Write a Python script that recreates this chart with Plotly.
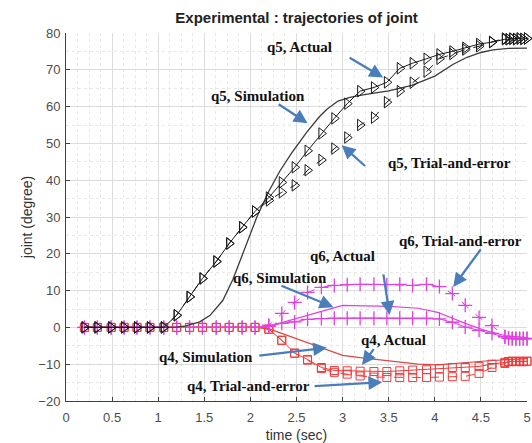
import plotly.graph_objects as go

# ---- data ----
T = [0.20, 0.34, 0.49, 0.63, 0.77, 0.91, 1.06, 1.20, 1.34, 1.48, 1.63, 1.77, 1.91, 2.05, 2.20,
     2.34, 2.48, 2.62, 2.77, 2.91, 3.05, 3.19, 3.34, 3.48, 3.62, 3.76, 3.91, 4.05, 4.19, 4.33,
     4.48, 4.62, 4.76, 4.80, 4.84, 4.88, 4.92, 4.96, 5.00]

q5_actual = [0, 0, 0, 0, 0, 0, 0, 3.3, 8.3, 13.3, 17.9, 22.8, 27.2, 31.5, 35.3,
             39.4, 43.5, 48.0, 52.7, 56.8, 60.8, 64.2, 65.2, 66.6, 70.4, 71.8, 73.0, 74.2, 75.0, 76.0,
             77.0, 77.5, 78.3, 78.3, 78.4, 78.3, 78.5, 78.4, 78.5]
q5_trial = [0, 0, 0, 0, 0, 0, 0, 3.3, 8.3, 13.3, 17.9, 22.8, 27.2, 31.5, 34.5,
            36.7, 38.6, 42.7, 45.5, 48.6, 51.6, 55.0, 57.0, 61.2, 64.2, 66.5, 69.5, 73.0, 74.3, 75.5,
            76.4, 77.6, 78.5, 78.3, 78.5, 78.4, 78.5, 78.4, 78.5]
q6_actual = [0, 0, 0, 0, 0, 0, 0, 0, 0, 0, 0, 0, 0, 0, 0.3,
             1.1, 1.5, 2.2, 2.4, 2.5, 2.5, 2.5, 2.5, 2.5, 2.5, 2.5, 2.5, 2.3, 1.4, 0.1,
             -0.8, -1.6, -2.6, -2.9, -3.0, -3.1, -3.0, -3.1, -3.0]
q6_trial = [0, 0, 0, 0, 0, 0, 0, 0, 0, 0, 0, 0, 0, 0, 0.6,
            3.8, 6.8, 9.5, 10.9, 11.4, 11.6, 11.7, 11.7, 11.6, 11.7, 11.4, 11.7, 11.1, 9.2, 6.0,
            2.7, 0.5, -2.5, -3.0, -3.1, -3.0, -3.1, -3.0, -3.1]
q4_actual = [0, 0, 0, 0, 0, 0, 0, 0, 0, 0, 0, 0, 0, 0, -0.5,
             -3.5, -7.0, -8.7, -10.9, -11.7, -11.8, -11.9, -12.0, -12.0, -11.8, -11.6, -11.5, -11.2, -10.9, -10.9,
             -10.6, -10.0, -9.5, -9.3, -9.2, -9.3, -9.2, -9.3, -9.2]
q4_trial = [0, 0, 0, 0, 0, 0, 0, 0, 0, 0, 0, 0, 0, 0, -0.5,
            -3.5, -7.0, -8.9, -11.2, -12.2, -12.7, -13.2, -13.5, -13.6, -13.6, -13.6, -13.6, -13.5, -13.4, -13.3,
            -12.5, -10.9, -9.8, -9.3, -9.2, -9.3, -9.2, -9.3, -9.2]

T_q5_sim = [0.2, 0.6, 1.0, 1.2, 1.3, 1.45, 1.56, 1.7, 1.81, 1.92, 2.0, 2.07, 2.2, 2.32, 2.45, 2.61,
            2.75, 2.83, 2.95, 3.08, 3.25, 3.5, 3.75, 4.0, 4.2, 4.35, 4.5, 4.63, 4.8, 5.0]
q5_sim = [0, 0, 0, 0.1, 0.4, 1.5, 3.2, 7.3, 13.0, 20.0, 25.5, 30.0, 37.0, 42.5, 47.5, 53.0,
          57.3, 59.3, 61.5, 62.5, 63.3, 64.3, 65.8, 68.3, 71.5, 73.4, 74.7, 75.4, 75.8, 75.9]
T_q6_sim = [0.2, 2.16, 3.0, 3.5, 3.82, 4.03, 4.33, 4.54, 4.76, 5.0]
q6_sim = [0, 0, 6.0, 5.7, 5.2, 4.1, 1.1, -0.8, -2.2, -2.8]
T_q4_sim = [0.2, 2.16, 2.46, 2.75, 3.0, 3.19, 3.49, 3.82, 4.03, 4.33, 4.62, 5.0]
q4_sim = [0, 0, -2.7, -5.4, -7.6, -8.2, -9.0, -10.0, -10.2, -9.6, -9.0, -8.5]

X_TICKS = [0, 0.5, 1, 1.5, 2, 2.5, 3, 3.5, 4, 4.5, 5]
Y_TICKS = [-20, -10, 0, 10, 20, 30, 40, 50, 60, 70, 80]

# (label, text x, text y, anchor, arrow tail x, tail y, head x, head y)
LABELS = [
    ("q5, Actual", 2.53, 76.2, "center", 3.06, 73.5, 3.44, 67.9),
    ("q5, Simulation", 2.08, 62.9, "center", 2.29, 60.9, 2.62, 55.5),
    ("q5, Trial-and-error", 4.16, 44.7, "center", 3.26, 43.5, 2.99, 49.5),
    ("q6, Simulation", 2.32, 13.4, "center", 2.32, 11.5, 2.90, 5.5),
    ("q6, Actual", 3.0, 19.4, "center", 3.44, 14.8, 3.51, 3.4),
    ("q6, Trial-and-error", 3.59, 23.4, "left", 4.51, 21.6, 4.20, 11.0),
    ("q4, Actual", 3.55, -3.5, "center", 3.35, -5.5, 3.21, -10.2),
    ("q4, Simulation", 2.05, -8.0, "right", 2.08, -7.7, 2.83, -5.5),
    ("q4, Trial-and-error", 2.67, -15.8, "right", 2.68, -16.0, 3.43, -14.9),
]

BLACK = "#1a1a1a"
MAG = "#e040e0"
RED = "#f03a3a"

fig = go.Figure()

# q4
fig.add_trace(go.Scatter(x=T_q4_sim, y=q4_sim, mode="lines", line=dict(color="#d84848", width=1.2)))
fig.add_trace(go.Scatter(x=T, y=q4_trial, mode="lines+markers", line=dict(color=RED, width=1, dash="dash"),
                         marker=dict(symbol="square-open", size=8, color=RED, line=dict(width=1)), cliponaxis=False))
fig.add_trace(go.Scatter(x=T, y=q4_actual, mode="lines+markers", line=dict(color=RED, width=1),
                         marker=dict(symbol="square-open", size=8, color=RED, line=dict(width=1)), cliponaxis=False))
# q6
fig.add_trace(go.Scatter(x=T_q6_sim, y=q6_sim, mode="lines", line=dict(color=MAG, width=1.2)))
fig.add_trace(go.Scatter(x=T, y=q6_trial, mode="lines+markers", line=dict(color=MAG, width=1, dash="dash"),
                         marker=dict(symbol="cross-thin-open", size=10, color=MAG, line=dict(width=1.3, color=MAG)),
                         cliponaxis=False))
fig.add_trace(go.Scatter(x=T, y=q6_actual, mode="lines+markers", line=dict(color=MAG, width=1),
                         marker=dict(symbol="cross-thin-open", size=10, color=MAG, line=dict(width=1.3, color=MAG)),
                         cliponaxis=False))
# q5
fig.add_trace(go.Scatter(x=T_q5_sim, y=q5_sim, mode="lines", line=dict(color="#3a3a3a", width=1.3)))
fig.add_trace(go.Scatter(x=T, y=q5_trial, mode="lines+markers", line=dict(color=BLACK, width=1, dash="dash"),
                         marker=dict(symbol="triangle-right-open", size=10, color=BLACK, line=dict(width=1)),
                         cliponaxis=False))
fig.add_trace(go.Scatter(x=T, y=q5_actual, mode="lines+markers", line=dict(color=BLACK, width=1),
                         marker=dict(symbol="triangle-right-open", size=10, color=BLACK, line=dict(width=1)),
                         cliponaxis=False))

annotations = []
for lab, tx, ty, anc, ax_, ay_, hx, hy in LABELS:
    annotations.append(dict(x=tx, y=ty, xref="x", yref="y", text="<b>" + lab + "</b>", showarrow=False,
                            xanchor=anc, yanchor="middle",
                            font=dict(family="Liberation Serif, Times New Roman, serif", size=15, color="#111")))
    annotations.append(dict(x=hx, y=hy, xref="x", yref="y", ax=ax_, ay=ay_, axref="x", ayref="y",
                            text="", showarrow=True, arrowhead=2, arrowsize=1.2, arrowwidth=2.3,
                            arrowcolor="#4a7ebb", standoff=0, startstandoff=0))

axis_font = dict(family="Liberation Sans, Arial, sans-serif", size=13, color="#4d4d4d")
fig.update_layout(
    width=532, height=443,
    margin=dict(l=66, r=5, t=33, b=42, autoexpand=False),
    paper_bgcolor="white", plot_bgcolor="white",
    showlegend=False,
    title=dict(text="<b>Experimental : trajectories of joint</b>", x=0.5575, xanchor="center",
               y=0.961, yanchor="middle",
               font=dict(family="Liberation Sans, Arial, sans-serif", size=15, color="#222")),
    annotations=annotations,
    xaxis=dict(range=[0, 5], tickvals=X_TICKS, ticktext=[str(v) for v in X_TICKS], showline=True,
               linecolor="#404040", linewidth=1, ticks="inside", ticklen=4, tickcolor="#404040",
               showgrid=True, gridcolor="#dcdcdc", gridwidth=1, zeroline=False, tickfont=axis_font,
               automargin=False, ticklabelstandoff=4,
               minor=dict(dtick=0.125, showgrid=True, gridcolor="#e8e8e8", griddash="dot", ticks=""),
               title=dict(text="time (sec)", font=dict(family="Liberation Sans, Arial, sans-serif",
                                                        size=14, color="#333"), standoff=10)),
    yaxis=dict(range=[-20, 80], tickvals=Y_TICKS, showline=True, linecolor="#404040", linewidth=1,
               ticks="inside", ticklen=4, tickcolor="#404040",
               showgrid=True, gridcolor="#dcdcdc", gridwidth=1, zeroline=False, tickfont=axis_font,
               automargin=False, ticklabelstandoff=2,
               minor=dict(dtick=5, showgrid=True, gridcolor="#e8e8e8", griddash="dot", ticks=""),
               title=dict(text="joint (degree)", font=dict(family="Liberation Sans, Arial, sans-serif",
                                                            size=14, color="#333"), standoff=2)),
)

fig.write_html("out.html")
